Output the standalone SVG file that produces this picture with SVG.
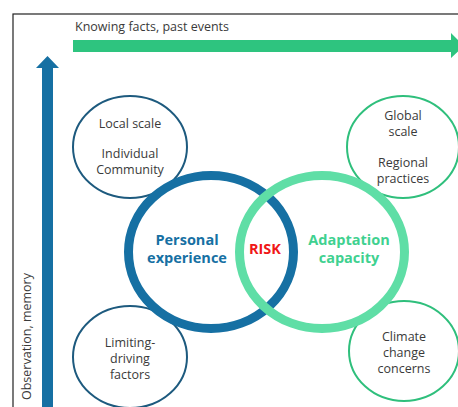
<svg xmlns="http://www.w3.org/2000/svg" width="458" height="407" viewBox="0 0 458 407">
<style>
.t{font-family:"Open Sans","Noto Sans","Liberation Sans",sans-serif;font-size:12.5px;fill:#3a3a3a;text-anchor:middle}
.b{font-family:"Open Sans","Noto Sans","Liberation Sans",sans-serif;font-size:14.5px;font-weight:bold;text-anchor:middle}
.sb{fill:#fff;stroke:#1d5a7e;stroke-width:2}
.sg{fill:#fff;stroke:#2fbf7c;stroke-width:2}
</style>
<rect x="13" y="14" width="460" height="410" fill="#fff" stroke="#222" stroke-width="1.2"/>
<g id="axes">
<text class="t" x="75" y="31" style="text-anchor:start">Knowing facts, past events</text>
<polygon points="73,40 451,40 451,33 464,46 451,58 451,52 73,52" fill="#2ec47f"/>
<polygon points="42,407 42,68 36,68 47.5,56 59,68 53,68 53,407" fill="#1670a3"/>
<text class="t" transform="translate(31,400) rotate(-90)" style="text-anchor:start">Observation, memory</text>
</g>
<g id="local"><ellipse class="sb" cx="130" cy="147" rx="57" ry="51"/>
<text class="t" x="130" y="128">Local scale</text><text class="t" x="130" y="158">Individual</text><text class="t" x="130" y="174">Community</text></g>
<g id="global"><ellipse class="sg" cx="403" cy="147" rx="56" ry="51"/>
<text class="t" x="403" y="120">Global</text><text class="t" x="403" y="136">scale</text><text class="t" x="403" y="167">Regional</text><text class="t" x="403" y="183">practices</text></g>
<g id="limiting"><ellipse class="sb" cx="130" cy="357" rx="57" ry="51"/>
<text class="t" x="130" y="347">Limiting-</text><text class="t" x="130" y="363">driving</text><text class="t" x="130" y="379">factors</text></g>
<g id="climate"><ellipse class="sg" cx="404" cy="351" rx="55" ry="50"/>
<text class="t" x="404" y="341">Climate</text><text class="t" x="404" y="357">change</text><text class="t" x="404" y="373">concerns</text></g>
<g id="personal"><ellipse cx="211" cy="252" rx="82.5" ry="76.5" fill="none" stroke="#1670a3" stroke-width="9"/>
<text class="b" x="187" y="245" fill="#1670a3">Personal</text><text class="b" x="187" y="263" fill="#1670a3">experience</text></g>
<g id="adaptation"><ellipse cx="322" cy="252" rx="82.5" ry="76.5" fill="none" stroke="#5fdea6" stroke-width="9"/>
<text class="b" x="349" y="245" fill="#3fd190">Adaptation</text><text class="b" x="349" y="263" fill="#3fd190">capacity</text></g>
<g id="risk"><text class="b" x="265" y="254" fill="#f01818">RISK</text></g>
</svg>
